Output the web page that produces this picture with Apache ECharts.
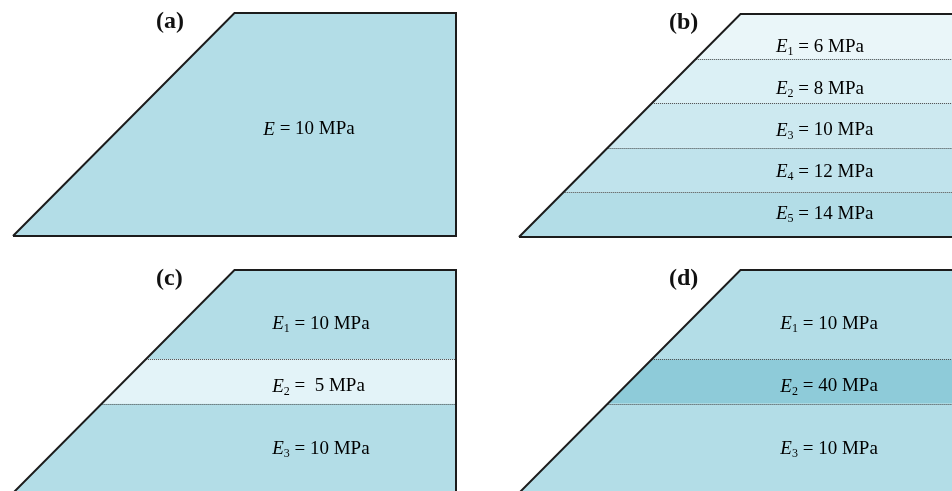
<!DOCTYPE html>
<html>
<head>
<meta charset="utf-8">
<script src="https://cdn.jsdelivr.net/npm/echarts@6/dist/echarts.min.js"></script>
<style>
  html, body { margin: 0; padding: 0; background: #ffffff; }
  #chart { width: 952px; height: 491px; }
</style>
</head>
<body>
<div id="chart"></div>
<script>
// Slope geometry (model units): 1:1 slope of height 10, model 20 wide
const slopeHeight = 10;
const slopeRun = 10;
const modelWidth = 20;

// Panel tags
const panelTags = ['(a)', '(b)', '(c)', '(d)'];

// Layer boundaries as elevations, crest down to toe, and the modulus (MPa) of each layer
const boundsA = [10, 0];
const modulusA = [10];

const boundsB = [10, 8, 6, 4, 2, 0];
const modulusB = [6, 8, 10, 12, 14];

const boundsC = [10, 6, 4, 0];
const modulusC = [10, 5, 10];

const boundsD = [10, 6, 4, 0];
const modulusD = [10, 40, 10];

// Layer fill colours (style)
const fillsA = ['#b3dde7'];
const fillsB = ['#eaf6f9', '#dbf0f5', '#cde9f0', '#c0e3ec', '#b3dde7'];
const fillsC = ['#b3dde7', '#e3f3f8', '#b3dde7'];
const fillsD = ['#b3dde7', '#8ecbd9', '#b3dde7'];

const panels = [
  { tag: panelTags[0], bounds: boundsA, modulus: modulusA, fills: fillsA, grid: { left: 13, top: 13, width: 443, height: 223 }, tagLeft: 156, labelX: 11.3, pad: false },
  { tag: panelTags[1], bounds: boundsB, modulus: modulusB, fills: fillsB, grid: { left: 519, top: 14, width: 443, height: 223 }, tagLeft: 669, labelX: 11.6, pad: false },
  { tag: panelTags[2], bounds: boundsC, modulus: modulusC, fills: fillsC, grid: { left: 13, top: 270, width: 443, height: 223 }, tagLeft: 156, labelX: 11.7, pad: true },
  { tag: panelTags[3], bounds: boundsD, modulus: modulusD, fills: fillsD, grid: { left: 519, top: 270, width: 443, height: 223 }, tagLeft: 669, labelX: 11.8, pad: false }
];

const serif = '"Liberation Serif", "DejaVu Serif", serif';
const textColor = '#363636';

// x position of the slope face at a given elevation
function faceX(elev) { return elev * slopeRun / slopeHeight; }

function labelRich(panel, i) {
  const v = panel.pad ? String(panel.modulus[i]).padStart(2, '\u00a0') : String(panel.modulus[i]);
  const sub = panel.modulus.length > 1 ? '{s|' + (i + 1) + '}' : '';
  return '{e|E}' + sub + '{t| = ' + v + ' MPa}';
}

const richStyle = {
  e: { fontFamily: serif, fontStyle: 'italic', fontSize: 19, color: textColor, lineHeight: 22 },
  s: { fontFamily: serif, fontSize: 12, color: textColor, lineHeight: 22, verticalAlign: 'bottom', padding: [7, 0, 0, 0] },
  t: { fontFamily: serif, fontSize: 19, color: textColor, lineHeight: 22 }
};

const grids = [], xAxes = [], yAxes = [], series = [], titles = [];

panels.forEach(function (p, k) {
  grids.push(Object.assign({ containLabel: false, outerBoundsMode: 'none' }, p.grid));
  xAxes.push({ type: 'value', gridIndex: k, min: 0, max: modelWidth, show: false });
  yAxes.push({ type: 'value', gridIndex: k, min: 0, max: slopeHeight, show: false });

  const layerData = p.modulus.map(function (m, i) { return [i, m]; });

  // Layers: fill, dotted interface on top, modulus label
  series.push({
    type: 'custom',
    xAxisIndex: k,
    yAxisIndex: k,
    clip: false,
    silent: true,
    data: layerData,
    renderItem: function (params, api) {
      const i = api.value(0);
      const top = p.bounds[i];
      const bot = p.bounds[i + 1];
      const children = [{
        type: 'polygon',
        shape: {
          points: [
            api.coord([faceX(bot), bot]),
            api.coord([modelWidth, bot]),
            api.coord([modelWidth, top]),
            api.coord([faceX(top), top])
          ]
        },
        style: { fill: p.fills[i], stroke: null }
      }];
      if (i > 0) {
        const a = api.coord([faceX(top), top]);
        const b = api.coord([modelWidth, top]);
        children.push({
          type: 'line',
          shape: { x1: a[0], y1: Math.round(a[1]) + 0.5, x2: b[0], y2: Math.round(b[1]) + 0.5 },
          style: { stroke: '#444444', lineWidth: 1, lineDash: [1, 1] }
        });
      }
      const mid = (top + bot) / 2;
      const pos = api.coord([p.labelX, mid]);
      // labels sit a little lower in the upper, narrower layers
      const drop = 1.4 * mid - 2;
      children.push({
        type: 'text',
        x: pos[0],
        y: pos[1] + drop,
        style: {
          text: labelRich(p, i),
          rich: richStyle,
          align: 'left',
          verticalAlign: 'middle'
        }
      });
      return { type: 'group', children: children };
    }
  });

  // Model outline: toe, crest, top right, bottom right, back to toe
  series.push({
    type: 'custom',
    xAxisIndex: k,
    yAxisIndex: k,
    clip: false,
    silent: true,
    data: [[0]],
    renderItem: function (params, api) {
      return {
        type: 'polyline',
        shape: {
          points: [
            api.coord([0, 0]),
            api.coord([faceX(slopeHeight), slopeHeight]),
            api.coord([modelWidth, slopeHeight]),
            api.coord([modelWidth, 0]),
            api.coord([0, 0])
          ]
        },
        style: { stroke: '#1c1c1c', lineWidth: 2, fill: null, lineJoin: 'miter' }
      };
    }
  });

  titles.push({
    text: p.tag,
    left: p.tagLeft,
    top: p.grid.top - 3,
    textStyle: { fontFamily: serif, fontWeight: 'bold', fontSize: 24, color: '#111111' },
    padding: 0
  });
});

const chart = echarts.init(document.getElementById('chart'), null, { renderer: 'canvas' });
chart.setOption({
  backgroundColor: '#ffffff',
  animation: false,
  title: titles,
  grid: grids,
  xAxis: xAxes,
  yAxis: yAxes,
  series: series
});
</script>
</body>
</html>
